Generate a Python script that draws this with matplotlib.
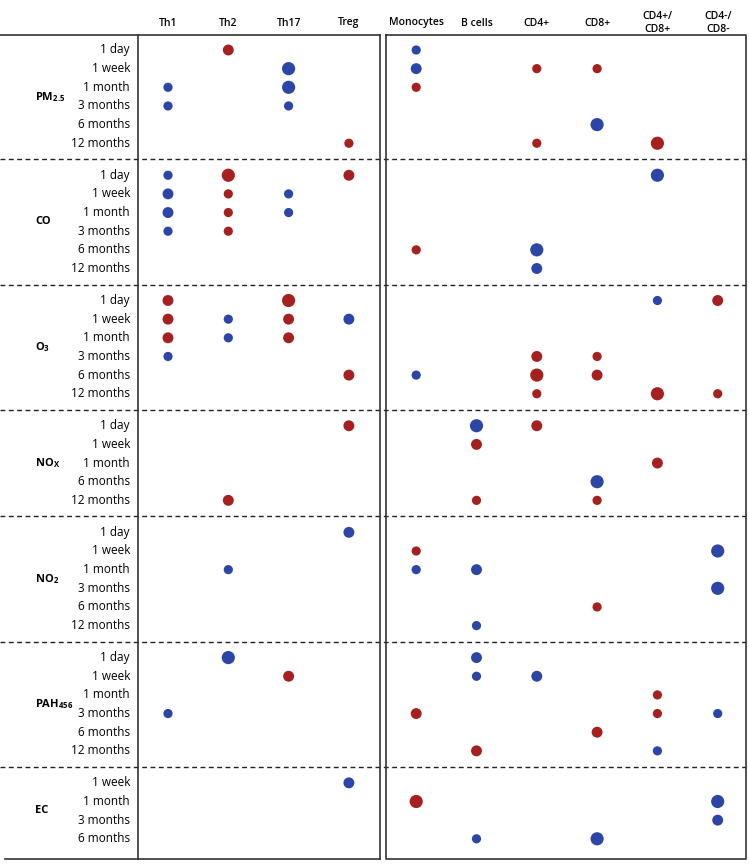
import matplotlib.pyplot as plt

plt.rcParams['font.family'] = ['Open Sans', 'DejaVu Sans']
plt.rcParams['mathtext.fontset'] = 'custom'
plt.rcParams['mathtext.rm'] = 'Open Sans'
plt.rcParams['mathtext.bf'] = 'Open Sans:bold'

cells = ['Th1', 'Th2', 'Th17', 'Treg', 'Monocytes', 'B cells', 'CD4+', 'CD8+',
         'CD4+/\nCD8+', 'CD4-/\nCD8-']
short = ['Th1', 'Th2', 'Th17', 'Treg', 'Mono', 'B', 'CD4', 'CD8', 'DP', 'DN']

pollutants = [r'PM$_{\mathregular{2.5}}$', 'CO', r'O$_{\mathregular{3}}$',
              r'NO$_{\mathregular{X}}$', r'NO$_{\mathregular{2}}$',
              r'PAH$_{\mathregular{456}}$', 'EC']
windows = [
    ['1 day', '1 week', '1 month', '3 months', '6 months', '12 months'],
    ['1 day', '1 week', '1 month', '3 months', '6 months', '12 months'],
    ['1 day', '1 week', '1 month', '3 months', '6 months', '12 months'],
    ['1 day', '1 week', '1 month', '6 months', '12 months'],
    ['1 day', '1 week', '1 month', '3 months', '6 months', '12 months'],
    ['1 day', '1 week', '1 month', '3 months', '6 months', '12 months'],
    ['1 week', '1 month', '3 months', '6 months'],
]

# (window, cell, direction r/b, size 1-3)
pm25 = [('1 day', 'Th2', 'r', 2), ('1 day', 'Mono', 'b', 1),
        ('1 week', 'Th17', 'b', 3), ('1 week', 'Mono', 'b', 2), ('1 week', 'CD4', 'r', 1), ('1 week', 'CD8', 'r', 1),
        ('1 month', 'Th1', 'b', 1), ('1 month', 'Th17', 'b', 3), ('1 month', 'Mono', 'r', 1),
        ('3 months', 'Th1', 'b', 1), ('3 months', 'Th17', 'b', 1),
        ('6 months', 'CD8', 'b', 3),
        ('12 months', 'Treg', 'r', 1), ('12 months', 'CD4', 'r', 1), ('12 months', 'DP', 'r', 3)]
co = [('1 day', 'Th1', 'b', 1), ('1 day', 'Th2', 'r', 3), ('1 day', 'Treg', 'r', 2), ('1 day', 'DP', 'b', 3),
      ('1 week', 'Th1', 'b', 2), ('1 week', 'Th2', 'r', 1), ('1 week', 'Th17', 'b', 1),
      ('1 month', 'Th1', 'b', 2), ('1 month', 'Th2', 'r', 1), ('1 month', 'Th17', 'b', 1),
      ('3 months', 'Th1', 'b', 1), ('3 months', 'Th2', 'r', 1),
      ('6 months', 'Mono', 'r', 1), ('6 months', 'CD4', 'b', 3),
      ('12 months', 'CD4', 'b', 2)]
o3 = [('1 day', 'Th1', 'r', 2), ('1 day', 'Th17', 'r', 3), ('1 day', 'DP', 'b', 1), ('1 day', 'DN', 'r', 2),
      ('1 week', 'Th1', 'r', 2), ('1 week', 'Th2', 'b', 1), ('1 week', 'Th17', 'r', 2), ('1 week', 'Treg', 'b', 2),
      ('1 month', 'Th1', 'r', 2), ('1 month', 'Th2', 'b', 1), ('1 month', 'Th17', 'r', 2),
      ('3 months', 'Th1', 'b', 1), ('3 months', 'CD4', 'r', 2), ('3 months', 'CD8', 'r', 1),
      ('6 months', 'Treg', 'r', 2), ('6 months', 'Mono', 'b', 1), ('6 months', 'CD4', 'r', 3), ('6 months', 'CD8', 'r', 2),
      ('12 months', 'CD4', 'r', 1), ('12 months', 'DP', 'r', 3), ('12 months', 'DN', 'r', 1)]
nox = [('1 day', 'Treg', 'r', 2), ('1 day', 'B', 'b', 3), ('1 day', 'CD4', 'r', 2),
       ('1 week', 'B', 'r', 2),
       ('1 month', 'DP', 'r', 2),
       ('6 months', 'CD8', 'b', 3),
       ('12 months', 'Th2', 'r', 2), ('12 months', 'B', 'r', 1), ('12 months', 'CD8', 'r', 1)]
no2 = [('1 day', 'Treg', 'b', 2),
       ('1 week', 'Mono', 'r', 1), ('1 week', 'DN', 'b', 3),
       ('1 month', 'Th2', 'b', 1), ('1 month', 'Mono', 'b', 1), ('1 month', 'B', 'b', 2),
       ('3 months', 'DN', 'b', 3),
       ('6 months', 'CD8', 'r', 1),
       ('12 months', 'B', 'b', 1)]
pah = [('1 day', 'Th2', 'b', 3), ('1 day', 'B', 'b', 2),
       ('1 week', 'Th17', 'r', 2), ('1 week', 'B', 'b', 1), ('1 week', 'CD4', 'b', 2),
       ('1 month', 'DP', 'r', 1),
       ('3 months', 'Th1', 'b', 1), ('3 months', 'Mono', 'r', 2), ('3 months', 'DP', 'r', 1), ('3 months', 'DN', 'b', 1),
       ('6 months', 'CD8', 'r', 2),
       ('12 months', 'B', 'r', 2), ('12 months', 'DP', 'b', 1)]
ec = [('1 week', 'Treg', 'b', 2),
      ('1 month', 'Mono', 'r', 3), ('1 month', 'DN', 'b', 3),
      ('3 months', 'DN', 'b', 2),
      ('6 months', 'B', 'b', 1), ('6 months', 'CD8', 'b', 3)]
dots = [pm25, co, o3, nox, no2, pah, ec]

colors = {'r': '#a5201f', 'b': '#2c46a8'}
sizes = {1: 44, 2: 62, 3: 90}

fig = plt.figure(figsize=(7.49, 8.65), dpi=100)
ax = fig.add_axes([0, 0, 1, 1])
ax.set_xlim(0, 749)
ax.set_ylim(865, 0)
ax.axis('off')

# column positions (pixels)
col_x = {}
for i, s in enumerate(short):
    col_x[s] = 168 + 60.3 * i + (7 if i >= 4 else 0)

for i, c in enumerate(cells):
    ax.text(col_x[short[i]], 23, c, ha='center', va='center', fontsize=7.5,
            fontweight='semibold', linespacing=1.3)

row_step = 18.65
y = 50
for g, (pol, wins, pts) in enumerate(zip(pollutants, windows, dots)):
    row_y = {w: y + k * row_step for k, w in enumerate(wins)}
    for w, yy in row_y.items():
        ax.text(130, yy, w, ha='right', va='center', fontsize=8.5)
    mid = (row_y[wins[0]] + row_y[wins[-1]]) / 2
    ax.text(35, mid, pol, ha='left', va='center', fontsize=8, fontweight='bold')
    for w, cell, d, sz in pts:
        ax.scatter(col_x[cell], row_y[w], s=sizes[sz], color=colors[d],
                   edgecolors='none', zorder=3)
    last = row_y[wins[-1]]
    if g < len(pollutants) - 1:
        ax.plot([0, 746], [last + 16, last + 16], color='#222222', lw=1.0,
                ls=(0, (3.5, 2.5)), zorder=1)
    y = last + 32

# boxes
lc = '#333333'
ax.plot([0, 380], [35, 35], color=lc, lw=1.2)
ax.plot([5, 380], [859, 859], color=lc, lw=1.2)
ax.plot([138, 138], [35, 859], color=lc, lw=1.2)
ax.plot([380, 380], [35, 859], color=lc, lw=1.2)
ax.plot([386, 746, 746, 386, 386], [35, 35, 859, 859, 35], color=lc, lw=1.2)

fig.savefig('out.png', dpi=100)
